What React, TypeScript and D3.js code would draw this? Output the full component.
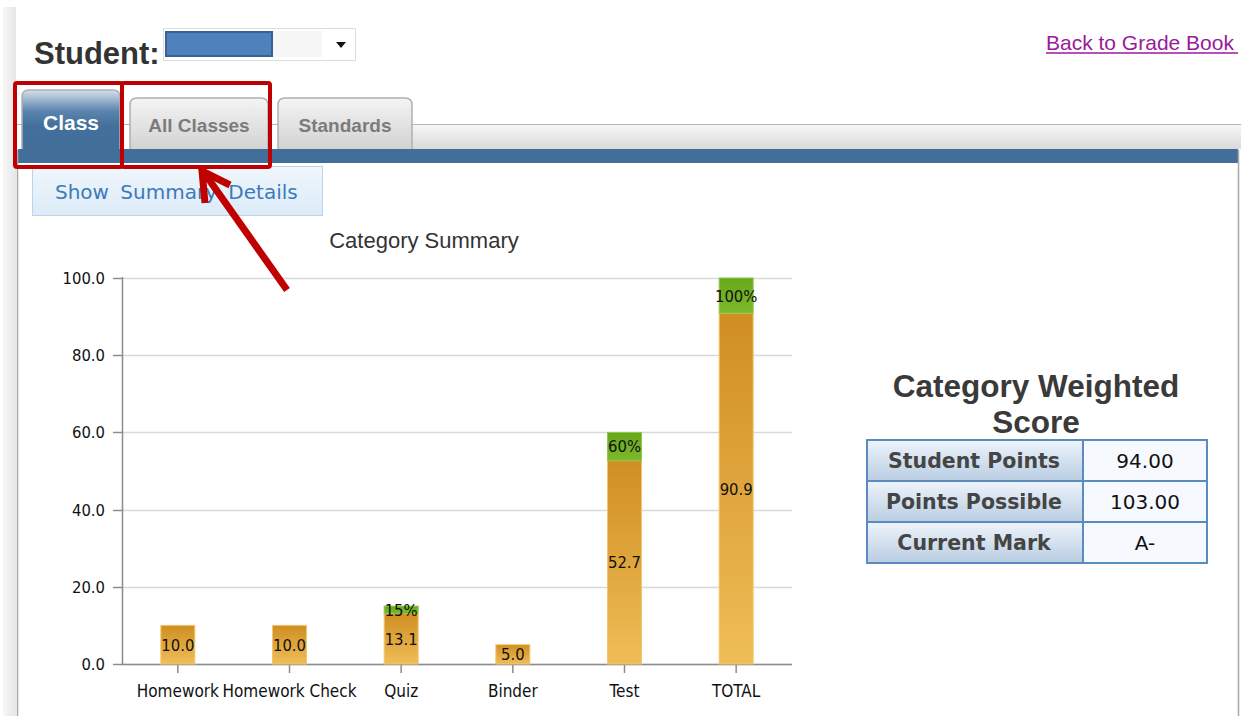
import React from 'react';
import * as d3 from 'd3';

// chart values
const categories = ['Homework', 'Homework Check', 'Quiz', 'Binder', 'Test', 'TOTAL'];
const earned = [10.0, 10.0, 13.1, 5.0, 52.7, 90.9];
const possible = [null, null, 15, null, 60, 100];
const pctLabels = ['', '', '15%', '', '60%', '100%'];
const yTicks = [0, 20, 40, 60, 80, 100];

const scoreRows = ['Student Points', 'Points Possible', 'Current Mark'];
const scoreValues = ['94.00', '103.00', 'A-'];
const tabs = ['Class', 'All Classes', 'Standards'];

const W = 1241;
const H = 716;
const chartFont = "'DejaVu Sans Condensed', 'DejaVu Sans', sans-serif";
const arial = "'Liberation Sans', Arial, sans-serif";

const App = () => {
  const x = d3.scaleBand().domain(categories).range([122, 792]);
  const y = d3.scaleLinear().domain([0, 100]).range([664, 278]);
  const barW = 34;

  // tab geometry
  const tabX = [22, 130, 278];
  const tabW = [98, 138, 134];

  const rowY = d3.scaleBand().domain(scoreRows).range([440, 563]);

  return (
    <svg width={W} height={H} style={{ position: 'absolute', left: 0, top: 0, display: 'block' }}>
      <defs>
        <linearGradient id="orange" x1="0" y1="0" x2="0" y2="1">
          <stop offset="0" stopColor="#d08e22" />
          <stop offset="1" stopColor="#efbd57" />
        </linearGradient>
        <linearGradient id="green" x1="0" y1="0" x2="0" y2="1">
          <stop offset="0" stopColor="#68a81c" />
          <stop offset="1" stopColor="#7cb92c" />
        </linearGradient>
        <linearGradient id="activeTab" x1="0" y1="0" x2="0" y2="1">
          <stop offset="0" stopColor="#d6e0ea" />
          <stop offset="0.35" stopColor="#5b84ad" />
          <stop offset="0.6" stopColor="#426f9b" />
          <stop offset="1" stopColor="#416f9a" />
        </linearGradient>
        <linearGradient id="grayTab" x1="0" y1="0" x2="0" y2="1">
          <stop offset="0" stopColor="#f4f4f4" />
          <stop offset="1" stopColor="#d2d2d2" />
        </linearGradient>
        <linearGradient id="band" x1="0" y1="0" x2="0" y2="1">
          <stop offset="0" stopColor="#f6f6f6" />
          <stop offset="1" stopColor="#d9d9d9" />
        </linearGradient>
        <linearGradient id="btn" x1="0" y1="0" x2="0" y2="1">
          <stop offset="0" stopColor="#f0f6fc" />
          <stop offset="1" stopColor="#dcebf8" />
        </linearGradient>
        <linearGradient id="cellHead" x1="0" y1="0" x2="0" y2="1">
          <stop offset="0" stopColor="#eef4fb" />
          <stop offset="1" stopColor="#b9cde2" />
        </linearGradient>
        <linearGradient id="strip" x1="0" y1="0" x2="1" y2="0">
          <stop offset="0" stopColor="#f7f7f7" />
          <stop offset="1" stopColor="#e6e6e6" />
        </linearGradient>
      </defs>

      <rect width={W} height={H} fill="#fff" />
      <rect x={3} y={7} width={13} height={H - 7} fill="url(#strip)" />

      {/* header */}
      <text x={34} y={64} fontFamily={arial} fontWeight="bold" fontSize={31} fill="#333">Student:</text>
      <rect x={163.5} y={28.5} width={192} height={32} fill="#fff" stroke="#dcdcdc" />
      <rect x={272} y={31} width={50} height={26} fill="#f6f6f6" />
      <rect x={166} y={32} width={106} height={24} fill="#4f81bd" stroke="#3a6290" strokeWidth={2} />
      <path d="M336,42 L346,42 L341,48 Z" fill="#111" />
      <text x={1046} y={50} fontFamily={arial} fontSize={21} fill="#9a1a9a">Back to Grade Book</text>
      <line x1={1046} x2={1238} y1={53} y2={53} stroke="#9a1a9a" strokeWidth={1.5} />

      {/* tab strip */}
      <line x1={17} x2={W} y1={124.5} y2={124.5} stroke="#b5b5b5" />
      <rect x={412} y={125} width={W - 412} height={24} fill="url(#band)" />
      {tabs.map((t, i) => {
        const active = i === 0;
        const top = active ? 90 : 98;
        const x0 = tabX[i];
        const w = tabW[i];
        const bottom = 150;
        const r = 7;
        const d = `M${x0},${bottom} L${x0},${top + r} Q${x0},${top} ${x0 + r},${top} L${x0 + w - r},${top} Q${x0 + w},${top} ${x0 + w},${top + r} L${x0 + w},${bottom}`;
        return (
          <g key={t}>
            <path d={d + ' Z'} fill={active ? 'url(#activeTab)' : 'url(#grayTab)'} stroke="#b0b0b0" strokeWidth={1.5} />
            <text
              x={x0 + w / 2}
              y={active ? 130 : 132}
              textAnchor="middle"
              fontFamily={arial}
              fontWeight="bold"
              fontSize={active ? 21 : 19}
              fill={active ? '#fff' : '#7b7b7b'}
            >
              {t}
            </text>
          </g>
        );
      })}
      <rect x={18} y={149} width={1220} height={14} fill="#416f9a" />
      <line x1={17.5} x2={17.5} y1={150} y2={H} stroke="#a9a9a9" strokeWidth={1.5} />
      <line x1={1238.5} x2={1238.5} y1={150} y2={H} stroke="#a9a9a9" strokeWidth={1.5} />

      {/* summary button */}
      <rect x={32.5} y={166.5} width={290} height={49} fill="url(#btn)" stroke="#b8d4ee" />
      <text x={55} y={199} fontFamily="'DejaVu Sans', sans-serif" fontSize={20} fill="#3c7ab9" wordSpacing={5}>Show Summary Details</text>

      {/* chart */}
      <text x={424} y={248} textAnchor="middle" fontFamily={arial} fontSize={22} fill="#333">Category Summary</text>
      {yTicks.map((t) => (
        <g key={t}>
          <line x1={122} x2={792} y1={Math.round(y(t)) + 0.5} y2={Math.round(y(t)) + 0.5} stroke="#d9d9d9" strokeWidth={1.5} />
          <line x1={113} x2={122} y1={Math.round(y(t)) + 0.5} y2={Math.round(y(t)) + 0.5} stroke="#8c8c8c" strokeWidth={1.5} />
          <text x={105} y={y(t) + 6} textAnchor="end" fontFamily={chartFont} fontSize={16.5} fill="#111">
            {t.toFixed(1)}
          </text>
        </g>
      ))}
      <line x1={122.5} x2={122.5} y1={277} y2={665} stroke="#8c8c8c" strokeWidth={1.5} />
      <line x1={122} x2={792} y1={664.5} y2={664.5} stroke="#8c8c8c" strokeWidth={1.5} />

      {categories.map((c, i) => {
        const cx = (x(c) ?? 0) + x.bandwidth() / 2;
        const e = earned[i];
        const p = possible[i];
        return (
          <g key={c}>
            <line x1={cx} x2={cx} y1={665} y2={673} stroke="#8c8c8c" strokeWidth={1.5} />
            <text x={cx} y={697} textAnchor="middle" fontFamily={chartFont} fontSize={17} fill="#111">{c}</text>
            <rect x={cx - barW / 2} y={y(e)} width={barW} height={y(0) - y(e)} fill="url(#orange)" stroke="#f2c66c" strokeWidth={1} />
            {p != null && (
              <rect x={cx - barW / 2} y={y(p)} width={barW} height={y(e) - y(p)} fill="url(#green)" stroke="#90c84a" strokeWidth={1} />
            )}
            <text x={cx} y={(y(e) + y(0)) / 2 + 6} textAnchor="middle" fontFamily={chartFont} fontSize={16.5} fill="#111">
              {e.toFixed(1)}
            </text>
            {p != null && (
              <text x={cx} y={(y(e) + y(p)) / 2 + 6} textAnchor="middle" fontFamily={chartFont} fontSize={16.5} fill="#111">
                {pctLabels[i]}
              </text>
            )}
          </g>
        );
      })}

      {/* weighted score table */}
      <text x={1036} y={397} textAnchor="middle" fontFamily={arial} fontWeight="bold" fontSize={31.5} fill="#3a3a3a">Category Weighted</text>
      <text x={1036} y={433} textAnchor="middle" fontFamily={arial} fontWeight="bold" fontSize={31.5} fill="#3a3a3a">Score</text>
      {scoreRows.map((r, i) => {
        const ry = rowY(r) ?? 0;
        const rh = rowY.bandwidth();
        return (
          <g key={r}>
            <rect x={867} y={ry} width={216} height={rh} fill="url(#cellHead)" stroke="#5c8cbf" strokeWidth={2} />
            <rect x={1083} y={ry} width={124} height={rh} fill="#f6faff" stroke="#5c8cbf" strokeWidth={2} />
            <text x={974} y={ry + rh / 2 + 7} textAnchor="middle" fontFamily="'DejaVu Sans', sans-serif" fontWeight="bold" fontSize={20.5} fill="#454545">{r}</text>
            <text x={1145} y={ry + rh / 2 + 7} textAnchor="middle" fontFamily="'DejaVu Sans', sans-serif" fontSize={20} fill="#111">{scoreValues[i]}</text>
          </g>
        );
      })}

      {/* annotation boxes and arrow */}
      <rect x={15} y={83} width={107} height={84} fill="none" stroke="#c00000" strokeWidth={4} rx={2} />
      <rect x={122} y={83} width={148} height={84} fill="none" stroke="#c00000" strokeWidth={4} rx={2} />
      <line x1={287} y1={290} x2={205} y2={174} stroke="#c00000" strokeWidth={7} />
      <path d="M205,203 L202,171 L230,185" fill="none" stroke="#c00000" strokeWidth={7} strokeLinejoin="miter" />
    </svg>
  );
};

export default App;
